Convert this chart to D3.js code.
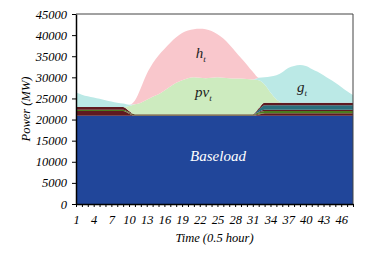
<!DOCTYPE html>
<html>
<head>
<meta charset="utf-8">
<script src="https://cdn.jsdelivr.net/npm/d3@7/dist/d3.min.js"></script>
<style>
  body { margin: 0; background: #fff; }
</style>
</head>
<body>
<svg id="chart" width="373" height="261"></svg>
<script>
// half-hour periods
const times = [1,2,3,4,5,6,7,8,9,10,11,12,13,14,15,16,17,18,19,20,21,22,23,24,
               25,26,27,28,29,30,31,32,33,34,35,36,37,38,39,40,41,42,43,44,45,46,47,48];
const xTickLabels = [1,4,7,10,13,16,19,22,25,28,31,34,37,40,43,46];
const yTicks = [0,5000,10000,15000,20000,25000,30000,35000,40000,45000];

// stacked series (MW)
const baseload = [20900,20900,20900,20900,20900,20900,20900,20900,20900,20900,20900,20900,20900,20900,20900,20900,
                  20900,20900,20900,20900,20900,20900,20900,20900,20900,20900,20900,20900,20900,20900,20900,20900,
                  20900,20900,20900,20900,20900,20900,20900,20900,20900,20900,20900,20900,20900,20900,20900,20900];
const unitA = [1100,1100,1100,1100,1100,1100,1100,1100,1100,500,0,0,0,0,0,0,0,0,0,0,0,0,0,0,
               0,0,0,0,0,0,0,300,600,600,600,600,600,600,600,600,600,600,600,600,600,600,600,600];
const unitB = [0,0,0,0,0,0,0,0,0,200,350,350,350,350,350,350,350,350,350,350,350,350,350,350,
               350,350,350,350,350,350,350,200,0,0,0,0,0,0,0,0,0,0,0,0,0,0,0,0];
const unitC = [300,300,300,300,300,300,300,300,300,150,0,0,0,0,0,0,0,0,0,0,0,0,0,0,
               0,0,0,0,0,0,0,250,500,500,500,500,500,500,500,500,500,500,500,500,500,500,500,500];
const unitD = [650,650,650,650,650,650,650,650,650,300,0,0,0,0,0,0,0,0,0,0,0,0,0,0,
               0,0,0,0,0,0,0,150,300,300,300,300,300,300,300,300,300,300,300,300,300,300,300,300];
const unitE = [0,0,0,0,0,0,0,0,0,0,0,0,0,0,0,0,0,0,0,0,0,0,0,0,
               0,0,0,0,0,0,0,550,1100,1100,1100,1100,1100,1100,1100,1100,1100,1100,1100,1100,1100,1100,1100,1100];
const unitF = [0,0,0,0,0,0,0,0,0,0,0,0,0,0,0,0,0,0,0,0,0,0,0,0,
               0,0,0,0,0,0,0,300,600,600,600,600,600,600,600,600,600,600,600,600,600,600,600,600];
const pv = [0,0,0,0,0,0,0,0,0,1150,2350,2750,3450,4150,4750,5650,6550,7450,8050,8550,8750,8650,8550,8650,
            8750,8650,8550,8450,8450,8350,8250,6650,4300,2400,800,0,0,0,0,0,0,0,0,0,0,0,0,0];
const g = [3450,2950,2550,2250,1950,1650,1350,1050,850,300,0,0,0,0,0,0,0,0,0,0,0,0,0,0,
           0,0,0,0,0,0,0,600,1700,3800,5700,7200,8200,8700,8900,8700,8000,7300,6500,5600,4700,3700,2700,1800];
const h = [0,0,0,0,0,0,0,0,0,0,900,3500,6100,7900,9200,9800,10400,10800,11200,11300,11400,11600,11600,11100,
           10200,9300,8000,6500,4900,3400,1800,0,0,0,0,0,0,0,0,0,0,0,0,0,0,0,0,0];

const keys = ['baseload','unitA','unitB','unitC','unitD','unitE','unitF','pv','g','h'];
const colors = {
  baseload: '#21469a', unitA: '#5f1a20', unitB: '#6b5532', unitC: '#4c7c1f',
  unitD: '#5f1a20', unitE: '#2b6f7d', unitF: '#5f1a20',
  pv: '#cdebbf', g: '#bbe9e6', h: '#f9c7cc'
};
const series = { baseload, unitA, unitB, unitC, unitD, unitE, unitF, pv, g, h };
const rows = times.map((t, i) => {
  const r = { t };
  keys.forEach(k => { r[k] = series[k][i]; });
  return r;
});

const FONT = "'Liberation Serif', 'Times New Roman', serif";
const margin = { left: 76, right: 20, top: 14, bottom: 57 };
const W = 373, H = 261;
const svg = d3.select('#chart');

const x = d3.scaleLinear().domain([1, 48]).range([margin.left, W - margin.right]);
const y = d3.scaleLinear().domain([0, 45000]).range([H - margin.bottom, margin.top]);

const stacked = d3.stack().keys(keys)(rows);
const area = d3.area()
  .curve(d3.curveMonotoneX)
  .x(d => x(d.data.t))
  .y0(d => y(d[0]))
  .y1(d => y(d[1]));

svg.append('g').selectAll('path').data(stacked).enter().append('path')
  .attr('d', area)
  .attr('fill', d => colors[d.key]);

// frame
svg.append('path')
  .attr('d', `M${x(1)},${y(45000)}H${x(48)}V${y(0)}`)
  .attr('fill', 'none').attr('stroke', '#444').attr('stroke-width', 1);

// axes
const xAxis = svg.append('g')
  .attr('transform', `translate(0,${y(0)})`)
  .call(d3.axisBottom(x).tickValues(times).tickSize(3).tickSizeOuter(0)
    .tickFormat(d => xTickLabels.includes(d) ? d : ''));
xAxis.selectAll('text').attr('font-size', 12.5).attr('dy', '1.1em');

const yAxis = svg.append('g')
  .attr('transform', `translate(${x(1)},0)`)
  .call(d3.axisLeft(y).tickValues(yTicks).tickSize(4).tickSizeOuter(0).tickPadding(5)
    .tickFormat(d3.format('d')));
yAxis.selectAll('text').attr('font-size', 12.5);

[xAxis, yAxis].forEach(a => {
  a.attr('font-family', FONT);
  a.selectAll('text').attr('fill', '#000').attr('font-style', 'italic');
  a.select('.domain').attr('stroke', '#000').attr('stroke-width', 1.5);
  a.selectAll('.tick line').attr('stroke', '#000');
});

// axis titles
svg.append('text')
  .attr('x', (x(1) + x(48)) / 2).attr('y', 242)
  .attr('text-anchor', 'middle').attr('font-size', 12.5)
  .attr('font-family', FONT).attr('font-style', 'italic')
  .text('Time (0.5 hour)');
svg.append('text')
  .attr('transform', `translate(30,${(y(0) + y(45000)) / 2}) rotate(-90)`)
  .attr('text-anchor', 'middle').attr('font-size', 12.5)
  .attr('font-family', FONT).attr('font-style', 'italic')
  .text('Power (MW)');

// series labels
function subLabel(px, py, main, sub) {
  const t = svg.append('text').attr('x', px).attr('y', py).attr('font-size', 15)
    .attr('font-family', FONT).attr('font-style', 'italic').attr('fill', '#222');
  t.append('tspan').text(main);
  t.append('tspan').attr('font-size', 9).attr('dy', 4).text(sub);
}
subLabel(x(21.3), 58, 'h', 't');
subLabel(x(21.2), 97, 'pv', 't');
subLabel(x(38.5), 92, 'g', 't');

svg.append('text')
  .attr('x', 218).attr('y', 161)
  .attr('text-anchor', 'middle').attr('font-size', 15).attr('fill', '#fff')
  .attr('font-family', FONT).attr('font-style', 'italic')
  .text('Baseload');
</script>
</body>
</html>
